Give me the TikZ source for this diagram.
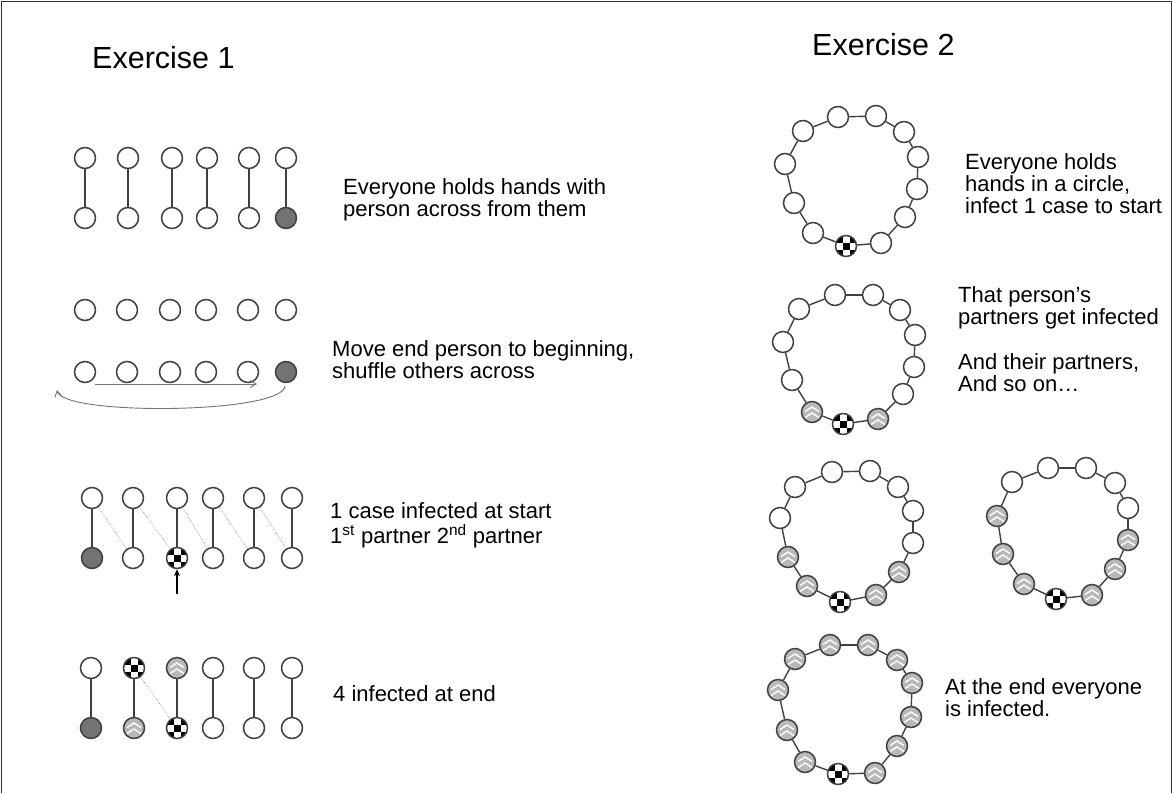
\documentclass[tikz,border=0pt]{standalone}
\usepackage{fontspec}
\setmainfont{Liberation Sans}
\usetikzlibrary{arrows.meta}
\tikzset{
  pc/.style={circle, draw=black!75, line width=1.5pt, fill=white, minimum size=21pt, inner sep=0pt},
  sick/.style={pc, fill=black!55},
  chk/.style={pc, path picture={
    \begin{scope}[shift={(path picture bounding box.center)}]
      \fill[black] (-11,-11) rectangle (-3.5,-3.5);
      \fill[black] (3.5,-11) rectangle (11,-3.5);
      \fill[black] (-3.5,-3.5) rectangle (3.5,3.5);
      \fill[black] (-11,3.5) rectangle (-3.5,11);
      \fill[black] (3.5,3.5) rectangle (11,11);
    \end{scope}}},
  hat/.style={pc, fill=black!28, path picture={
    \begin{scope}[shift={(path picture bounding box.center)}]
      \draw[white, line width=1.4pt] (-7,-0.5) -- (0,-5) -- (7,-0.5);
      \draw[white, line width=1.4pt] (-7,5.5) -- (0,1) -- (7,5.5);
    \end{scope}}},
  link/.style={draw=black!75, line width=1.4pt},
  dotlink/.style={draw=black!45, line width=0.6pt, densely dotted},
  txt/.style={anchor=north west, inner sep=0pt, align=left, font=\fontsize{22}{22}\selectfont},
  ttl/.style={anchor=west, inner sep=0pt, font=\fontsize{30.5}{32}\selectfont},
  tip/.style={-{Straight Barb[length=6pt,width=7pt]}},
}
\begin{document}
\begin{tikzpicture}[x=1pt, y=-1pt]
\useasboundingbox (0,0) rectangle (1172,793);
% frame
\draw[line width=1pt, black!80] (1,793) -- (1,1) -- (1171,1) -- (1171,793);

% titles
\node[ttl] (t1) at (92,58) {Exercise 1};
\node[ttl] (t2) at (812,45) {Exercise 2};

% ---- Exercise 1, row 1: pairs holding hands
\foreach \i/\x/\s in {1/85/pc, 2/128/pc, 3/172/pc, 4/207/pc, 5/249/pc, 6/286/sick}{
  \node[pc] (p\i) at (\x,158) {};
  \node[\s] (q\i) at (\x,218) {};
  \draw[link] (p\i) -- (q\i);
}
\node[txt] (x1) at (343,178) {Everyone holds hands with\\person across from them};

% ---- row 2: move the end person
\foreach \i/\x/\s in {1/85/pc, 2/127/pc, 3/170/pc, 4/206/pc, 5/248/pc, 6/286/sick}{
  \node[pc] (m\i) at (\x,310) {};
  \node[\s] (n\i) at (\x,372) {};
}
\coordinate (sa) at (95,384);
\coordinate (sb) at (257,384);
\draw[black!55, line width=0.9pt, tip] (sa) -- (sb);
\coordinate (ca) at (285,386);
\coordinate (cb) at (57,390);
\draw[black!55, line width=0.9pt, tip]
  (ca) .. controls (283,414) and (62,416) .. (cb);
\node[txt] (x2) at (332,340) {Move end person to beginning,\\shuffle others across};

% ---- row 3: first and second partners
\foreach \i/\x/\s in {1/92/sick, 2/133/pc, 3/177/chk, 4/213/pc, 5/254/pc, 6/292/pc}{
  \node[pc] (u\i) at (\x,498) {};
  \node[\s] (v\i) at (\x,558) {};
  \draw[link] (u\i) -- (v\i);
}
\foreach \i/\j in {1/2, 2/3, 3/4, 4/5, 5/6}{
  \draw[dotlink] (u\i) -- (v\j);
}
\coordinate (ar) at (177,594);
\draw[line width=1.1pt, -{Stealth[length=7pt,width=6pt]}] (ar) -- (v3);
\node[txt] (x3) at (330,502) {1 case infected at start\\[3pt]1\textsuperscript{st} partner 2\textsuperscript{nd} partner};

% ---- row 4: result
\foreach \i/\x/\s/\t in {1/91/pc/sick, 2/134/chk/hat, 3/177/hat/chk, 4/213/pc/pc, 5/254/pc/pc, 6/292/pc/pc}{
  \node[\s] (g\i) at (\x,668) {};
  \node[\t] (h\i) at (\x,728) {};
  \draw[link] (g\i) -- (h\i);
}
\draw[dotlink] (g2) -- (h3);
\node[txt] (x4) at (333,685) {4 infected at end};

% ---- Exercise 2: rings of people
% ring A
\foreach \n/\x/\y/\s in {1/838/117/pc, 2/876/116/pc, 3/904/132/pc, 4/918/157/pc,
  5/917/189/pc, 6/905/217/pc, 7/881/243/pc, 8/846/246/chk, 9/813/233/pc,
  10/794/203/pc, 11/785/164/pc, 12/803/131/pc}{
  \node[\s] (A\n) at (\x,\y) {};
}
% ring B
\foreach \n/\x/\y/\s in {1/835/295/pc, 2/873/295/pc, 3/900/310/pc, 4/915/335/pc,
  5/914/367/pc, 6/903/394/pc, 7/878/419/hat, 8/843/424/chk, 9/812/412/hat,
  10/792/380/pc, 11/783/342/pc, 12/799/309/pc}{
  \node[\s] (B\n) at (\x,\y) {};
}
% ring C
\foreach \n/\x/\y/\s in {1/832/472/pc, 2/870/471/pc, 3/898/487/pc, 4/913/511/pc,
  5/913/543/pc, 6/899/572/hat, 7/876/595/hat, 8/840/602/chk, 9/807/586/hat,
  10/788/557/hat, 11/780/518/pc, 12/795/487/pc}{
  \node[\s] (C\n) at (\x,\y) {};
}
% ring D
\foreach \n/\x/\y/\s in {1/1048/468/pc, 2/1086/468/pc, 3/1115/483/pc, 4/1128/508/pc,
  5/1128/540/hat, 6/1115/569/hat, 7/1092/595/hat, 8/1056/599/chk, 9/1024/584/hat,
  10/1003/554/hat, 11/997/516/hat, 12/1012/482/pc}{
  \node[\s] (D\n) at (\x,\y) {};
}
% ring E
\foreach \n/\x/\y/\s in {1/830/645/hat, 2/868/645/hat, 3/897/660/hat, 4/912/683/hat,
  5/911/717/hat, 6/897/746/hat, 7/875/773/hat, 8/838/774/chk, 9/805/762/hat,
  10/787/730/hat, 11/778/690/hat, 12/795/659/hat}{
  \node[\s] (E\n) at (\x,\y) {};
}
\foreach \r in {A,B,C,D,E}{
  \foreach \a/\b in {1/2,2/3,3/4,4/5,5/6,6/7,7/8,8/9,9/10,10/11,11/12,12/1}{
    \draw[link] (\r\a) -- (\r\b);
  }
}

\node[txt] (y1) at (965,153) {Everyone holds\\hands in a circle,\\infect 1 case to start};
\node[txt] (y2) at (958,286) {That person's\\partners get infected\\[23pt]And their partners,\\And so on…};
\node[txt] (y3) at (945,678) {At the end everyone\\is infected.};
\end{tikzpicture}
\end{document}
